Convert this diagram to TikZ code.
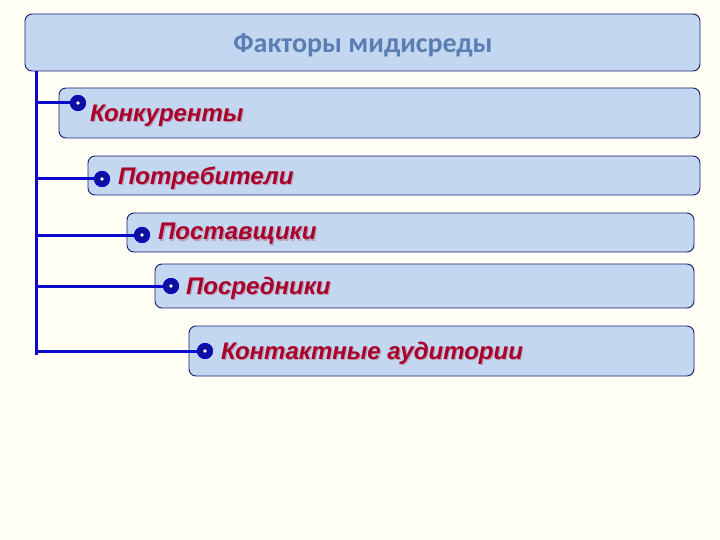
\documentclass[tikz,border=0pt]{standalone}
\usepackage{fontspec}
\setmainfont{Liberation Sans}
\newfontfamily\titlefont{Carlito}
\definecolor{bg}{HTML}{FFFFF6}
\definecolor{boxfill}{HTML}{C4D7F0}
\definecolor{boxline}{HTML}{1A1A70}
\definecolor{linkblue}{HTML}{0A0ACC}
\definecolor{dotfill}{HTML}{1010A0}
\definecolor{titlecol}{HTML}{5A7DB3}
\definecolor{itemred}{HTML}{A8002A}
\definecolor{shadowcol}{HTML}{B8A0B8}
\tikzset{
  card/.style={draw=boxline, line width=0.9pt, fill=boxfill, rounded corners=7pt},
  link/.style={draw=linkblue, line width=3pt},
  dotb/.style={circle, fill=dotfill, draw=linkblue, line width=1pt, minimum size=15pt, inner sep=0pt},
  itemtext/.style={anchor=west, text=itemred, font=\fontsize{24}{28}\selectfont\bfseries\itshape, inner sep=0pt},
  itemshadow/.style={anchor=west, text=shadowcol, font=\fontsize{24}{28}\selectfont\bfseries\itshape, inner sep=0pt},
}
\begin{document}
\begin{tikzpicture}[x=1pt,y=-1pt]
\fill[bg] (0,0) rectangle (720,540);
\useasboundingbox (0,0) rectangle (720,540);
% cards
\draw[card] (25,14) rectangle (700,71);
\node[font=\titlefont\fontsize{28}{32}\selectfont\bfseries, text=titlecol] (title) at (363,45) {Факторы мидисреды};
\draw[card] (59,88) rectangle (700,138);
\draw[card] (88,156) rectangle (700,195);
\draw[card] (127,213) rectangle (694,252);
\draw[card] (155,264) rectangle (694,308);
\draw[card] (189,326) rectangle (694,376);
% trunk
\coordinate (top) at (36,71);
\coordinate (bot) at (36,355);
\draw[link] (top) -- (bot);
% bullets
\node[dotb] (b1) at (78,103) {};
\node[dotb] (b2) at (102,179) {};
\node[dotb] (b3) at (142,235) {};
\node[dotb] (b4) at (171,286) {};
\node[dotb] (b5) at (205,351) {};
\foreach \b in {b1,b2,b3,b4,b5} {
  \draw[link] (\b -| top) -- (\b.center);
}
\foreach \b in {b1,b2,b3,b4,b5} {
  \node[dotb] at (\b) {};
  \fill[white] (\b) circle (1.8pt);
}
% texts
\node[itemshadow] at (91.2,117.2) {Конкуренты};
\node[itemtext] (t1) at (90,116) {Конкуренты};
\node[itemshadow] at (119.2,179.2) {Потребители};
\node[itemtext] (t2) at (118,178) {Потребители};
\node[itemshadow] at (159.2,235.2) {Поставщики};
\node[itemtext] (t3) at (158,234) {Поставщики};
\node[itemshadow] at (187.2,289.2) {Посредники};
\node[itemtext] (t4) at (186,288) {Посредники};
\node[itemshadow] at (222.2,354.2) {Контактные аудитории};
\node[itemtext] (t5) at (221,353) {Контактные аудитории};
\end{tikzpicture}
\end{document}
